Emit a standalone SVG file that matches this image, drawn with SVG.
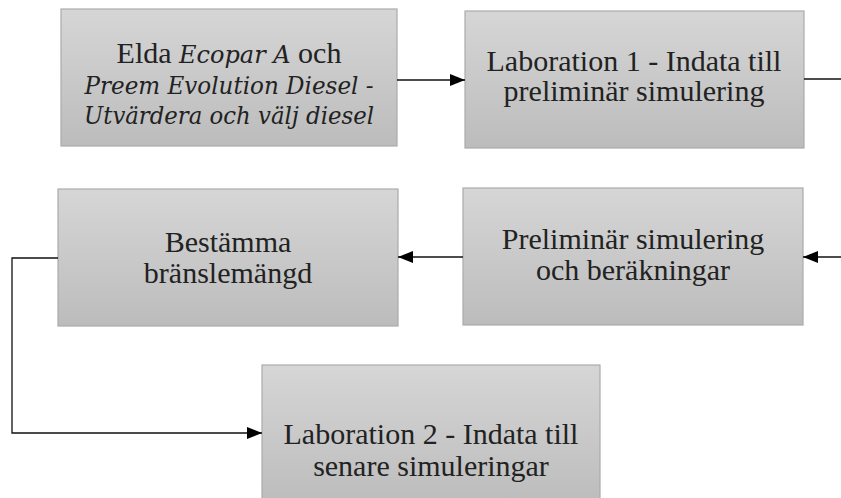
<svg xmlns="http://www.w3.org/2000/svg" width="841" height="498" viewBox="0 0 841 498">
<defs>
<linearGradient id="g" x1="0" y1="0" x2="0" y2="1">
<stop offset="0" stop-color="#d6d6d6"/>
<stop offset="1" stop-color="#bcbcbc"/>
</linearGradient>
<marker id="ah" markerUnits="userSpaceOnUse" markerWidth="16" markerHeight="13" refX="15" refY="6" orient="auto">
<path d="M0,0 L15,6 L0,12 z" fill="#000"/>
</marker>
<style>
.box{fill:url(#g);stroke:#ababab;stroke-width:1.2}
.t{font-family:"Liberation Serif","Times New Roman",serif;font-size:30px;fill:#222;text-anchor:middle}
.i{font-style:italic;font-family:"DejaVu Serif","Liberation Serif",serif;font-size:24px}
.c{fill:none;stroke:#111;stroke-width:1.3}
</style>
</defs>
<rect width="841" height="498" fill="#fff"/>
<g id="n1">
<rect class="box" x="61" y="9" width="336" height="137"/>
<text class="t" x="229" y="63">Elda <tspan class="i">Ecopar A</tspan> och</text>
<text class="t i" x="229" y="94" textLength="289" lengthAdjust="spacingAndGlyphs">Preem Evolution Diesel -</text>
<text class="t i" x="229" y="124" textLength="290" lengthAdjust="spacingAndGlyphs">Utvärdera och välj diesel</text>
</g>
<g id="n2">
<rect class="box" x="465" y="11" width="339" height="137"/>
<text class="t" x="634" y="71">Laboration 1 - Indata till</text>
<text class="t" x="634" y="101">preliminär simulering</text>
</g>
<g id="n3">
<rect class="box" x="58" y="189" width="340" height="137"/>
<text class="t" x="228" y="252">Bestämma</text>
<text class="t" x="228" y="283">bränslemängd</text>
</g>
<g id="n4">
<rect class="box" x="463" y="188" width="340" height="137"/>
<text class="t" x="633" y="249">Preliminär simulering</text>
<text class="t" x="633" y="280">och beräkningar</text>
</g>
<g id="n5">
<rect class="box" x="262" y="365" width="338" height="140"/>
<text class="t" x="431" y="444">Laboration 2 - Indata till</text>
<text class="t" x="431" y="476">senare simuleringar</text>
</g>
<g id="connectors">
<line class="c" x1="397" y1="80" x2="465" y2="80" marker-end="url(#ah)"/>
<line class="c" x1="804" y1="79" x2="841" y2="79"/>
<line class="c" x1="463" y1="257" x2="398" y2="257" marker-end="url(#ah)"/>
<line class="c" x1="841" y1="257" x2="803" y2="257" marker-end="url(#ah)"/>
<polyline class="c" points="58,258 12,258 12,433 262,433" marker-end="url(#ah)"/>
</g>
</svg>
